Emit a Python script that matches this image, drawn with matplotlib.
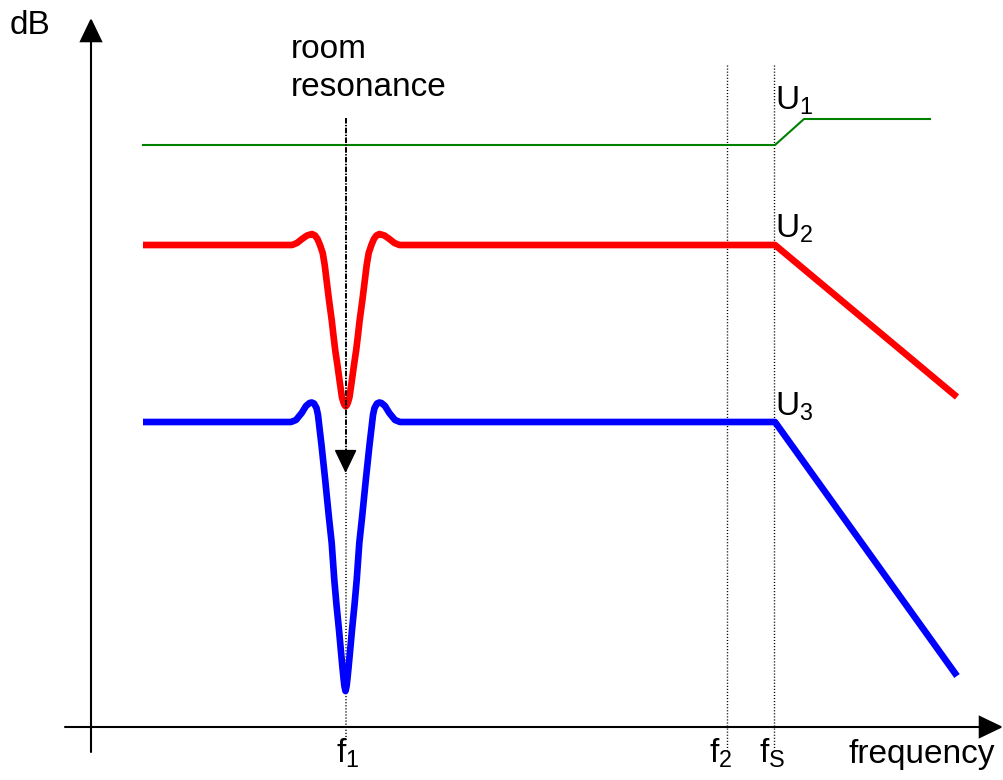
import matplotlib
matplotlib.use("Agg")
import matplotlib.pyplot as plt
from matplotlib.patches import FancyArrowPatch

plt.rcParams['font.family'] = ['Liberation Sans', 'DejaVu Sans']
plt.rcParams['mathtext.fontset'] = 'custom'
plt.rcParams['mathtext.rm'] = 'Liberation Sans'
plt.rcParams['mathtext.it'] = 'Liberation Sans:italic'
plt.rcParams['mathtext.sf'] = 'Liberation Sans'
plt.rcParams['lines.scale_dashes'] = False

# Diagram coordinates (schematic units, y grows downward)
green_x = [143, 775, 804, 930]
green_y = [145, 145, 119, 119]

red_x = [143, 292, 297, 302, 307, 312, 315, 317.5, 320, 322.7,
         324.7, 327.4, 329, 331.7, 333.4, 335.2, 337.4, 339.9, 341.9, 343.3, 344.5,
         345.7,
         346.9, 348.1, 349.5, 351.5, 354, 356.2, 358, 359.7, 362.4, 364, 366.7,
         368.7, 371.4, 373.9, 376.4, 379.4, 384.4, 389.4, 394.4, 399.4,
         775, 957]
red_y = [245, 245, 243, 239, 235.5, 234, 235.5, 239, 245, 253,
         265, 287, 300, 320, 335, 350, 365, 383, 397, 402, 405,
         406.3,
         405, 402, 397, 383, 365, 350, 335, 320, 300, 287, 265,
         253, 245, 239, 235.5, 234, 235.5, 239, 243, 245,
         245, 397]

blue_x = [143, 291, 296, 301.7, 306, 309.5, 311.7, 314, 316.5, 318, 319.5, 321.5,
          323.3, 325, 326.7, 329, 331.7, 334.3, 336.5, 339, 341, 342.5, 343.5, 344.4,
          345.5,
          346.6, 347.5, 348.5, 350, 352, 354.5, 356.7, 359.3, 362, 364.3, 366, 367.7,
          369.5, 371.5, 373, 374.5, 377, 379.3, 381.5, 385, 389.3, 395, 400,
          775, 957]
blue_y = [422, 422, 420, 413, 406, 403, 402.5, 403.5, 408, 415, 428, 445,
          462, 478, 495, 518, 543, 580, 605, 630, 652, 668, 678, 686,
          691,
          686, 678, 668, 652, 630, 605, 580, 543, 518, 495, 478, 462,
          445, 428, 415, 408, 403.5, 402.5, 403, 406, 413, 420, 422,
          422, 676]

f1_x, f2_x, fs_x = 345.6, 727, 774

fig = plt.figure(figsize=(10.04, 7.8), dpi=100)
ax = fig.add_axes([0, 0, 1, 1])
ax.set_xlim(0, 1004)
ax.set_ylim(780, 0)
ax.axis('off')

FS = 24

def arrow(p0, p1, lw=1.5, ls='-'):
    a = FancyArrowPatch(p0, p1, arrowstyle='-|>,head_length=15,head_width=7.2',
                        mutation_scale=1, shrinkA=0, shrinkB=0, color='black',
                        lw=lw, linestyle=ls, joinstyle='miter')
    ax.add_patch(a)

# axes
arrow((91, 752), (91, 18))
arrow((65, 727), (1003, 727))

# vertical dotted lines
dot = (0, (0.8, 1.4))
ax.plot([f2_x, f2_x], [65, 750], color='black', lw=1, linestyle=dot)
ax.plot([fs_x, fs_x], [65, 750], color='black', lw=1, linestyle=dot)
ax.plot([f1_x, f1_x], [470, 742], color='black', lw=1.1, linestyle=dot)

# curves
ax.plot(green_x, green_y, color='#008000', lw=1.5, solid_joinstyle='round')
ax.plot(red_x, red_y, color='#FF0000', lw=4.8, solid_joinstyle='round', solid_capstyle='butt')
ax.plot(blue_x, blue_y, color='#0000FF', lw=4.8, solid_joinstyle='round', solid_capstyle='butt')

# resonance arrow (dashed)
ax.plot([f1_x, f1_x], [118, 455], color='black', lw=1.4, linestyle=(0, (4, 1, 1, 1)))
arrow((f1_x, 452), (f1_x, 473), lw=1)

# texts
ax.text(10, 34, 'dB', fontsize=FS, va='baseline', ha='left')
ax.text(291, 58, 'room', fontsize=FS, va='baseline', ha='left')
ax.text(291, 96, 'resonance', fontsize=FS, va='baseline', ha='left')
ax.text(775, 110, r'U$_{\mathrm{1}}$', fontsize=FS, va='baseline', ha='left')
ax.text(775, 238, r'U$_{\mathrm{2}}$', fontsize=FS, va='baseline', ha='left')
ax.text(775, 416, r'U$_{\mathrm{3}}$', fontsize=FS, va='baseline', ha='left')
ax.text(336, 763, r'f$_{\mathrm{1}}$', fontsize=FS, va='baseline', ha='left')
ax.text(709, 763, r'f$_{\mathrm{2}}$', fontsize=FS, va='baseline', ha='left')
ax.text(759, 763, r'f$_{\mathrm{S}}$', fontsize=FS, va='baseline', ha='left')
ax.text(849, 763, 'frequency', fontsize=FS, va='baseline', ha='left')

fig.savefig('out.png', dpi=100, facecolor='white')
